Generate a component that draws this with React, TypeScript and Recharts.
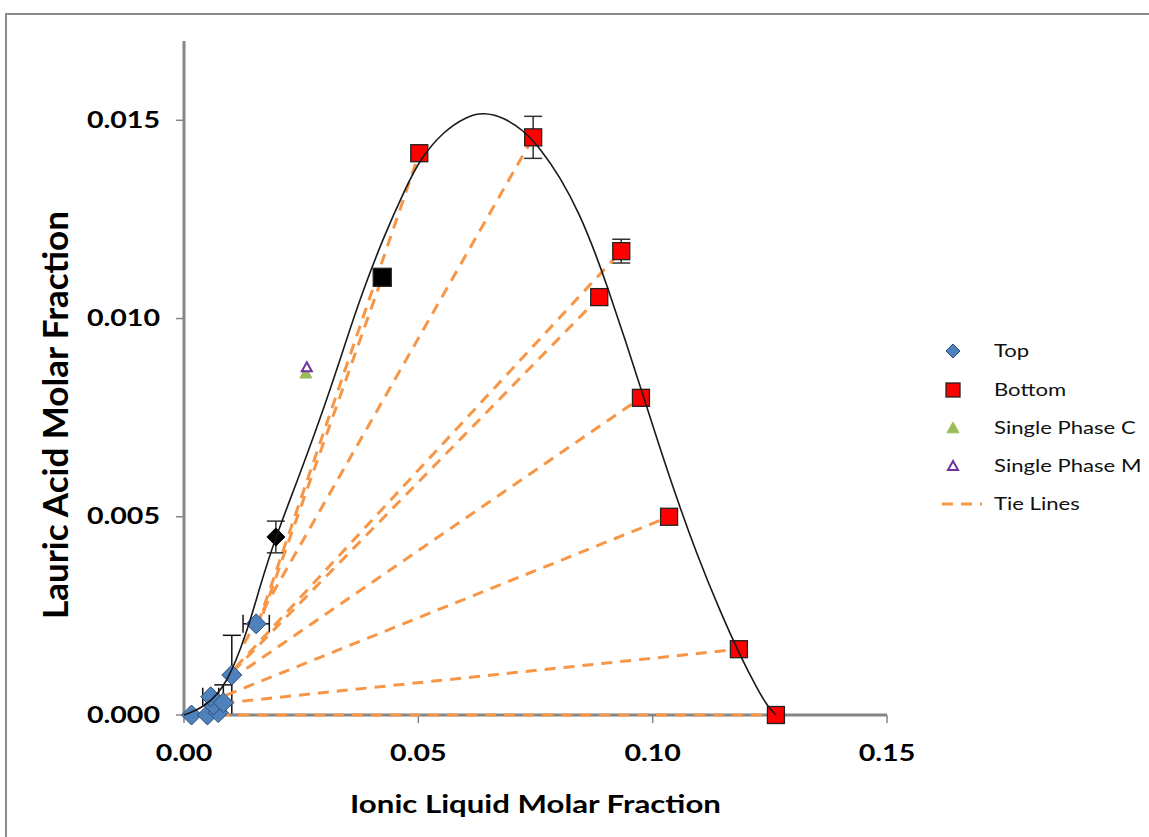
import React from "react";
import { ComposedChart, Scatter, XAxis, YAxis, ErrorBar, Label } from "recharts";

const FONT = "Lato, 'Open Sans', sans-serif";
const SX = 1.3; // the source picture is stretched sideways

const xTicks = [0, 0.05, 0.1, 0.15];
const yTicks = [0, 0.005, 0.01, 0.015];

// top phase (blue diamonds); ey may be [down, up]
const topPoints = [
  { x: 0.0016, y: 0.0 },
  { x: 0.005, y: 0.0 },
  { x: 0.0073, y: 0.00006 },
  { x: 0.0063, y: 0.00025 },
  { x: 0.0057, y: 0.00046, ex: 0.0017 },
  { x: 0.0084, y: 0.00031, ey: [0.0003, 0.00045] },
  { x: 0.0102, y: 0.00101, ey: 0.001 },
  { x: 0.0154, y: 0.0023, ex: 0.0028 },
];

// bottom phase (red squares)
const bottomPoints = [
  { x: 0.0502, y: 0.01417 },
  { x: 0.0745, y: 0.01457, ey: 0.00053 },
  { x: 0.0933, y: 0.0117, ey: 0.0003 },
  { x: 0.0886, y: 0.01054, ey: 0.0002 },
  { x: 0.0975, y: 0.008 },
  { x: 0.1035, y: 0.005 },
  { x: 0.1184, y: 0.00166 },
  { x: 0.1263, y: 0.0 },
];

const blackSquare = [{ x: 0.0423, y: 0.01104 }];
const blackDiamond = [{ x: 0.0196, y: 0.00449, ey: 0.0004 }];

const singlePhaseC = [{ x: 0.026, y: 0.00862 }];
const singlePhaseM = [{ x: 0.0262, y: 0.00877 }];

// binodal curve
const binodal = [
  [0, 0], [0.0045, 0.0002], [0.00911, 0.00075], [0.01338, 0.00206],
  [0.01622, 0.00325], [0.01942, 0.00445], [0.02475, 0.00608], [0.03045, 0.00794],
  [0.03436, 0.00935], [0.03756, 0.0105], [0.04253, 0.01205], [0.04752, 0.01335],
  [0.05036, 0.01402], [0.05533, 0.01472], [0.06033, 0.01510], [0.06387, 0.01520],
  [0.06814, 0.01508], [0.07241, 0.01475], [0.07597, 0.01430], [0.08024, 0.01357],
  [0.0845, 0.01262], [0.08807, 0.01155], [0.0902, 0.01085], [0.09375, 0.00960],
  [0.09731, 0.00830], [0.0998, 0.00738], [0.10442, 0.0057], [0.10941, 0.00405],
  [0.11438, 0.00262], [0.11865, 0.00150], [0.12221, 0.00068], [0.12450, 0.00022],
  [0.12633, 0],
].map(([x, y]) => ({ x, y }));

// the gray x axis line is drawn as a series so the tie lines can sit on it
const axisBase = [
  { x: 0, y: 0 },
  { x: 0.15, y: 0 },
];

// tie lines: [top end, bottom end]
const tieLines = [
  [[0.0075, 0.0], [0.1263, 0.0]],
  [[0.0084, 0.0003], [0.1184, 0.00166]],
  [[0.009, 0.0005], [0.1035, 0.005]],
  [[0.01, 0.0009], [0.0975, 0.008]],
  [[0.0105, 0.0011], [0.0886, 0.01054]],
  [[0.011, 0.0012], [0.0933, 0.0117]],
  [[0.0128, 0.0018], [0.0745, 0.01457]],
  [[0.0158, 0.0023], [0.0502, 0.01417]],
  [[0.0155, 0.0021], [0.0423, 0.01104]],
];

const legendNames = ["Top", "Bottom", "Single Phase C", "Single Phase M", "Tie Lines"];

const BLUE = "#4F81BD";
const RED = "#FF0000";
const GREEN = "#9BBB59";
const PURPLE = "#7030A0";
const ORANGE = "#F79646";
const AXIS = "#868686";

const none = () => <g />;

const diamond = (fill: string, stroke: string, r: number) => (p: any) => (
  <path
    d={`M${p.cx},${p.cy - r}L${p.cx + r},${p.cy}L${p.cx},${p.cy + r}L${p.cx - r},${p.cy}Z`}
    fill={fill}
    stroke={stroke}
    strokeWidth={1}
  />
);

const square = (fill: string, r: number) => (p: any) => (
  <rect x={p.cx - r} y={p.cy - r} width={2 * r} height={2 * r} fill={fill} stroke="#222" strokeWidth={1.3} />
);

const triangle = (fill: string, stroke: string, r: number, sw = 1) => (p: any) => (
  <path
    d={`M${p.cx},${p.cy - r}L${p.cx + r},${p.cy + r * 0.8}L${p.cx - r},${p.cy + r * 0.8}Z`}
    fill={fill}
    stroke={stroke}
    strokeWidth={sw}
  />
);

const XTick = (props: any) => {
  const { x, y, payload } = props;
  return (
    <g transform={`translate(${x},${y}) scale(${SX},1)`}>
      <text textAnchor="middle" dy="0.71em" fontSize={22} fontWeight={700} fill="#000" fontFamily={FONT}>
        {payload.value.toFixed(2)}
      </text>
    </g>
  );
};

const YTick = (props: any) => {
  const { x, y, payload } = props;
  return (
    <g transform={`translate(${x},${y}) scale(${SX},1)`}>
      <text textAnchor="end" dy="0.35em" fontSize={22} fontWeight={700} fill="#000" fontFamily={FONT}>
        {payload.value.toFixed(3)}
      </text>
    </g>
  );
};

const XTitle = (props: any) => {
  const vb = props.viewBox;
  return (
    <g transform={`translate(${vb.x + vb.width / 2},${805}) scale(${SX},1)`}>
      <text textAnchor="middle" dy="0.35em" fontSize={24} fontWeight={700} fill="#000" fontFamily={FONT}>
        Ionic Liquid Molar Fraction
      </text>
    </g>
  );
};

const YTitle = () => (
  <g transform="translate(56,415) rotate(-90)">
    <text textAnchor="middle" dy="0.35em" fontSize={35} fontWeight={700} fill="#000" fontFamily={FONT}>
      Lauric Acid Molar Fraction
    </text>
  </g>
);

const LegendBox = () => {
  const rows = [351, 390, 428, 466, 504];
  const icons = [
    diamond(BLUE, "#2C4D75", 7)({ cx: 953, cy: rows[0] }),
    square(RED, 7)({ cx: 953, cy: rows[1] }),
    triangle(GREEN, GREEN, 6)({ cx: 953, cy: rows[2] }),
    triangle("#fff", PURPLE, 5, 2)({ cx: 953, cy: rows[3] }),
    <line x1={942} x2={982} y1={rows[4]} y2={rows[4]} stroke={ORANGE} strokeWidth={3} strokeDasharray="11 8" />,
  ];
  return (
    <svg width={1149} height={837} style={{ position: "absolute", left: 0, top: 0, pointerEvents: "none" }}>
      {legendNames.map((name, i) => (
        <g key={name}>
          {icons[i]}
          <g transform={`translate(994,${rows[i]}) scale(${SX},1)`}>
            <text dy="0.35em" fontSize={17} fill="#111" fontFamily={FONT}>
              {name}
            </text>
          </g>
        </g>
      ))}
    </svg>
  );
};

export default function App() {
  return (
    <div style={{ position: "absolute", left: 0, top: 0, width: 1149, height: 837, overflow: "hidden", background: "#fff" }}>
      <div
        style={{
          position: "absolute",
          left: 5,
          top: 13,
          width: 1300,
          height: 1000,
          border: "2px solid #8c8c8c",
          boxSizing: "border-box",
        }}
      />
      <ComposedChart
        width={1149}
        height={837}
        margin={{ top: 41, right: 262, bottom: 12, left: 14 }}
        style={{ position: "absolute", left: 0, top: 0 }}
      >
        <XAxis
          type="number"
          dataKey="x"
          domain={[0, 0.15]}
          ticks={xTicks}
          tick={<XTick />}
          tickSize={8}
          tickMargin={22}
          height={110}
          axisLine={false}
          tickLine={{ stroke: AXIS, strokeWidth: 1.5 }}
        >
          <Label content={<XTitle />} />
        </XAxis>
        <XAxis
          xAxisId="top"
          orientation="top"
          type="number"
          domain={[0, 0.15]}
          height={0}
          tick={false}
          tickLine={false}
          axisLine={{ stroke: "#111", strokeWidth: 2.5 }}
        />
        <YAxis
          type="number"
          dataKey="y"
          domain={[0, 0.017]}
          ticks={yTicks}
          tick={<YTick />}
          tickSize={8}
          tickMargin={16}
          width={170}
          axisLine={{ stroke: AXIS, strokeWidth: 3 }}
          tickLine={{ stroke: AXIS, strokeWidth: 1.5 }}
        >
          <Label content={<YTitle />} />
        </YAxis>
        <YAxis
          yAxisId="right"
          orientation="right"
          type="number"
          domain={[0, 0.017]}
          width={0}
          tick={false}
          tickLine={false}
          axisLine={{ stroke: "#111", strokeWidth: 2.5 }}
        />

        <Scatter
          data={axisBase}
          line={{ stroke: AXIS, strokeWidth: 3 }}
          shape={none}
          isAnimationActive={false}
          legendType="none"
        />

        {tieLines.map((seg, i) => (
          <Scatter
            key={`tie-${i}`}
            data={seg.map(([x, y]) => ({ x, y }))}
            line={{ stroke: ORANGE, strokeWidth: 3, strokeDasharray: "11 8" }}
            shape={none}
            isAnimationActive={false}
            legendType="none"
          />
        ))}

        <Scatter data={topPoints} shape={diamond(BLUE, "#2C4D75", 10)} isAnimationActive={false} name="Top">
          <ErrorBar dataKey="ey" direction="y" width={9} stroke="#111" strokeWidth={1.5} />
          <ErrorBar dataKey="ex" direction="x" width={9} stroke="#111" strokeWidth={1.5} />
        </Scatter>
        <Scatter data={bottomPoints} shape={square(RED, 8.5)} isAnimationActive={false} name="Bottom">
          <ErrorBar dataKey="ey" direction="y" width={9} stroke="#333" strokeWidth={1.5} />
        </Scatter>
        <Scatter data={blackDiamond} shape={diamond("#000", "#000", 9)} isAnimationActive={false} legendType="none">
          <ErrorBar dataKey="ey" direction="y" width={9} stroke="#333" strokeWidth={1.5} />
        </Scatter>
        <Scatter data={blackSquare} shape={square("#000", 9)} isAnimationActive={false} legendType="none" />
        <Scatter data={singlePhaseC} shape={triangle(GREEN, GREEN, 6)} isAnimationActive={false} name="Single Phase C" />
        <Scatter data={singlePhaseM} shape={triangle("#fff", PURPLE, 5, 2)} isAnimationActive={false} name="Single Phase M" />

        <Scatter
          data={binodal}
          line={{ stroke: "#1a1a1a", strokeWidth: 1.6 }}
          lineJointType="basis"
          shape={none}
          isAnimationActive={false}
          legendType="none"
        />
      </ComposedChart>
      <LegendBox />
    </div>
  );
}
